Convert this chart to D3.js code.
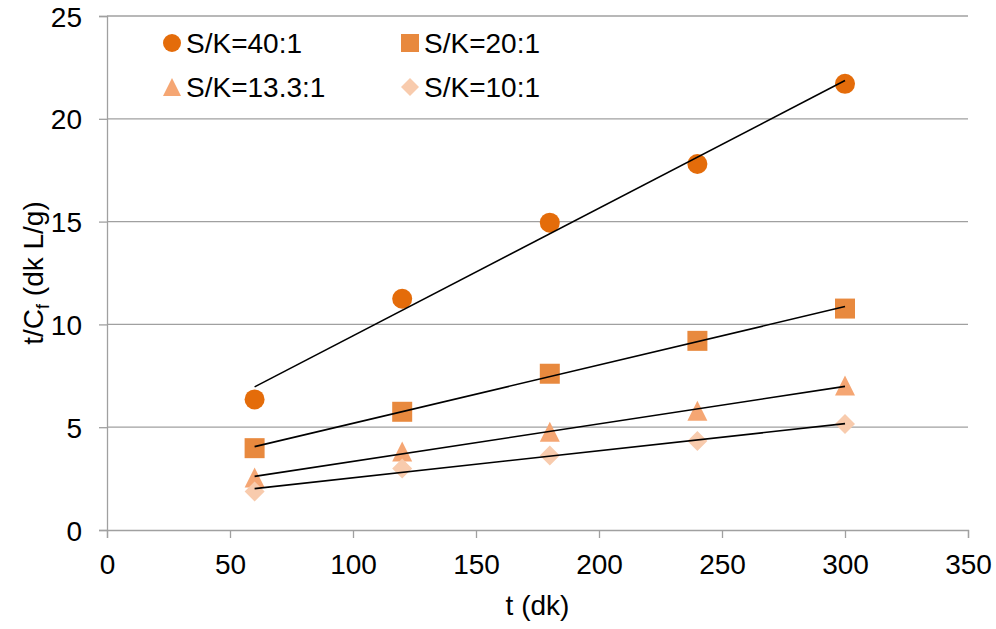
<!DOCTYPE html>
<html>
<head>
<meta charset="utf-8">
<script src="https://cdn.jsdelivr.net/npm/d3@7"></script>
<style>
  html, body { margin: 0; padding: 0; background: #fff; }
  svg text { font-family: "Liberation Sans", Arial, sans-serif; fill: #000; }
</style>
</head>
<body>
<svg id="chart" width="996" height="629"></svg>
<script>
// Sampling times (dk)
const times = [60, 120, 180, 240, 300];

// t/Cf values for each solid/liquid ratio
const sk40 = [6.35, 11.25, 14.95, 17.8, 21.7];
const sk20 = [3.98, 5.75, 7.6, 9.2, 10.77];
const sk13 = [2.55, 3.82, 4.78, 5.8, 7.03];
const sk10 = [1.87, 2.99, 3.62, 4.33, 5.15];

const seriesNames = ["S/K=40:1", "S/K=20:1", "S/K=13.3:1", "S/K=10:1"];
const seriesColors = ["#E46C0A", "#E8893E", "#F5A673", "#F8CBAD"];

const xTicks = [0, 50, 100, 150, 200, 250, 300, 350];
const yTicks = [0, 5, 10, 15, 20, 25];

// Marker shapes; "size" here is the full width of the marker in px
const shapes = {
  circle: { draw(ctx, w) { const r = w / 2; ctx.moveTo(r, 0); ctx.arc(0, 0, r, 0, 2 * Math.PI); } },
  square: { draw(ctx, w) { const h = w / 2; ctx.rect(-h, -h, w, w); } },
  triangle: { draw(ctx, w) { const h = w / 2; ctx.moveTo(0, -h); ctx.lineTo(h, h); ctx.lineTo(-h, h); ctx.closePath(); } },
  diamond: { draw(ctx, w) { const h = w / 2; ctx.moveTo(0, -h); ctx.lineTo(h, 0); ctx.lineTo(0, h); ctx.lineTo(-h, 0); ctx.closePath(); } }
};
const seriesShapes = [shapes.circle, shapes.square, shapes.triangle, shapes.diamond];
const markerW = [20, 20, 20, 20];
const legendW = [18, 18, 18, 18];

const series = [sk40, sk20, sk13, sk10].map((vals, i) => ({
  name: seriesNames[i],
  color: seriesColors[i],
  shape: seriesShapes[i],
  mw: markerW[i],
  lw: legendW[i],
  points: times.map((t, j) => ({ x: t, y: vals[j] }))
}));

const svg = d3.select("#chart");
const margin = { left: 107, right: 28, top: 16, bottom: 99 };
const W = 996, H = 629;
const FONT = 28;

const x = d3.scaleLinear().domain([0, 350]).range([margin.left, W - margin.right]);
const y = d3.scaleLinear().domain([0, 25]).range([H - margin.bottom, margin.top]);

// Horizontal gridlines
svg.append("g").selectAll("line").data(yTicks.slice(1)).join("line")
  .attr("x1", x(0)).attr("x2", x(350))
  .attr("y1", d => y(d)).attr("y2", d => y(d))
  .attr("stroke", "#A0A0A0").attr("stroke-width", 1.3);

// Axes
const gx = svg.append("g").attr("transform", `translate(0,${y(0)})`)
  .call(d3.axisBottom(x).tickValues(xTicks).tickSize(8).tickPadding(16));
const gy = svg.append("g").attr("transform", `translate(${x(0)},0)`)
  .call(d3.axisLeft(y).tickValues(yTicks).tickSize(8).tickPadding(17));
[gx, gy].forEach(g => {
  g.select(".domain").attr("stroke", "#A0A0A0").attr("stroke-width", 1.3);
  g.selectAll(".tick line").attr("stroke", "#A0A0A0").attr("stroke-width", 1.3);
  g.selectAll(".tick text").attr("font-size", FONT)
    .style("font-family", "'Liberation Sans', Arial, sans-serif").attr("fill", "#000");
});
gy.selectAll(".tick text").attr("dy", "0.36em");

// Axis titles
svg.append("text").attr("x", (x(0) + x(350)) / 2).attr("y", 615)
  .attr("text-anchor", "middle").attr("font-size", FONT).text("t (dk)");

const yt = svg.append("text")
  .attr("transform", `translate(43,${(y(0) + y(25)) / 2}) rotate(-90)`)
  .attr("text-anchor", "middle").attr("font-size", FONT);
yt.append("tspan").text("t/C");
yt.append("tspan").attr("font-size", 18).attr("dy", 6).text("f");
yt.append("tspan").attr("dy", -6).text(" (dk L/g)");

// Least-squares trend line for each series
function fit(pts) {
  const mx = d3.mean(pts, p => p.x), my = d3.mean(pts, p => p.y);
  const b = d3.sum(pts, p => (p.x - mx) * (p.y - my)) / d3.sum(pts, p => (p.x - mx) ** 2);
  return { a: my - b * mx, b };
}
const line = d3.line().x(d => x(d.x)).y(d => y(d.y));

// Markers
series.forEach(s => {
  const sym = d3.symbol().type(s.shape).size(s.mw);
  svg.append("g").selectAll("path").data(s.points).join("path")
    .attr("transform", d => `translate(${x(d.x)},${y(d.y)})`)
    .attr("d", sym).attr("fill", s.color);
});

// Trend lines drawn over the markers
series.forEach(s => {
  const f = fit(s.points);
  const ends = [times[0], times[times.length - 1]].map(t => ({ x: t, y: f.a + f.b * t }));
  svg.append("path").attr("d", line(ends)).attr("fill", "none")
    .attr("stroke", "#000").attr("stroke-width", 1.6);
});

// Legend
const legendPos = [[172, 43], [410, 43], [172, 87], [410, 87]];
series.forEach((s, i) => {
  const [lx, ly] = legendPos[i];
  const g = svg.append("g").attr("transform", `translate(${lx},${ly})`);
  g.append("path").attr("d", d3.symbol().type(s.shape).size(s.lw)()).attr("fill", s.color);
  g.append("text").attr("x", 14).attr("y", 0).attr("dy", "0.36em")
    .attr("font-size", FONT).text(s.name);
});
</script>
</body>
</html>
